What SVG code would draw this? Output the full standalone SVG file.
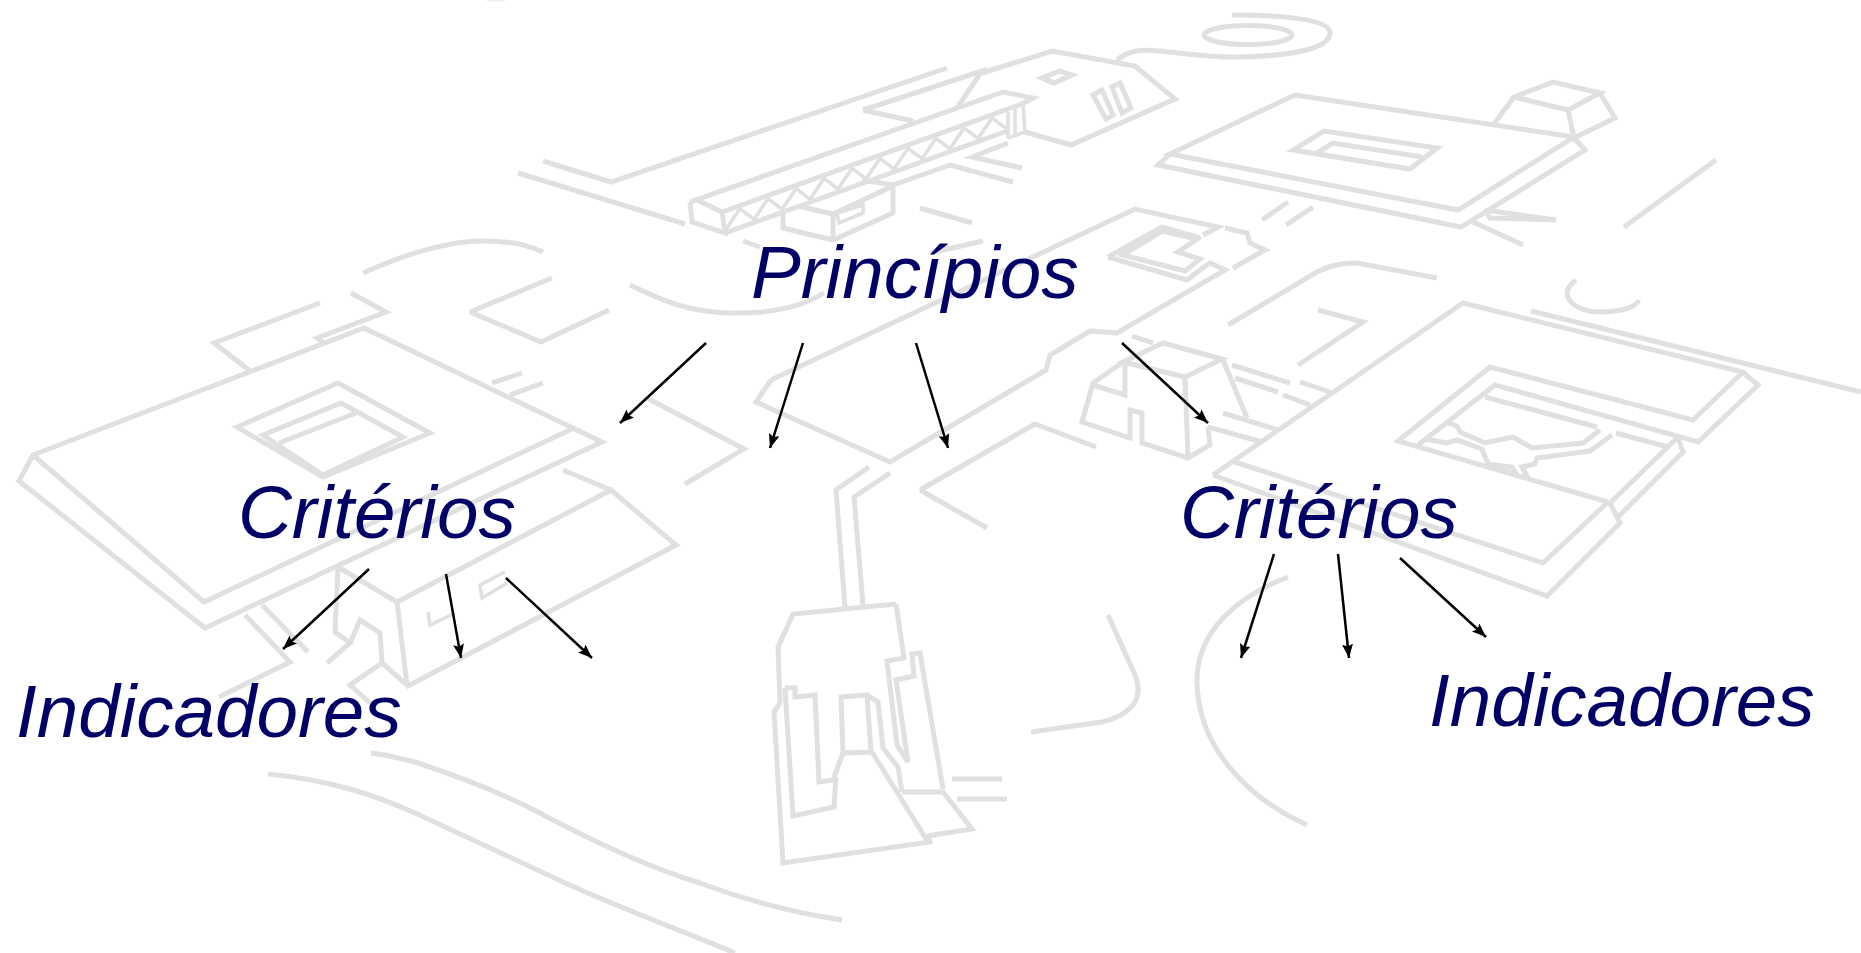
<svg xmlns="http://www.w3.org/2000/svg" width="1861" height="953" viewBox="0 0 1861 953">
<style>
.bg{fill:none;stroke:#e0e0e0;stroke-width:5;stroke-linejoin:miter;stroke-linecap:butt}
.thin{stroke-width:3.6}
.label{font-family:"Liberation Sans",Arial,sans-serif;font-style:italic;font-size:74.6px;fill:#000066}
.arrow{stroke:#000;stroke-width:2.5;fill:none;marker-end:url(#head)}
</style>
<defs>
<marker id="head" markerUnits="userSpaceOnUse" markerWidth="16" markerHeight="12" refX="14" refY="5.5" orient="auto">
<path d="M0,0 L14,5.5 L0,11 L2.5,5.5 Z" fill="#000"/>
</marker>
</defs>
<rect width="1861" height="953" fill="#fff"/>
<g id="background" class="bg">
<ellipse cx="496" cy="0" rx="11" ry="1.5" fill="#eeeef8" stroke="none"/>
<!-- top gallery complex -->
<path d="M543,161 L611,182 L947,68"/>
<path d="M518,173 L685,224"/>
<path d="M863,110 L982,71 L957,108"/>
<path d="M863,110 L913,121"/>
<path d="M982,73 L1052,51 L1135,66 L1175,99 L1071,145 L1025,132"/>
<path d="M1117,60 C1130,50 1140,49 1160,51 C1190,54 1215,58 1240,57 C1285,56 1330,50 1330,33 C1330,20 1290,15 1232,15"/>
<ellipse cx="1248" cy="35" rx="44" ry="9.5"/>
<path d="M1042,78 L1060,71 L1072,75 L1054,83 Z"/>
<path d="M1093,95 L1102,90 L1113,115 L1106,119 Z"/>
<path d="M1112,87 L1120,83 L1131,108 L1122,113 Z"/>
<path d="M690,202 L1003,92 L1033,98 L1022,104 L722,212 L695,199"/>
<path d="M690,202 L692,222 L725,233 L722,212"/>
<path d="M725,233 L1007,131"/>
<path class="thin" d="M726,229.6 L740,208.5 L754,219.5 L768,198.5 L782,209.4 L796,188.4 L810,199.3 L824,178.4 L838,189.1 L852,168.3 L866,179 L880,158.3 L894,168.9 L908,148.2 L922,158.7 L936,138.2 L950,148.6 L964,128.1 L978,138.5 L992,118 L1006,128.3"/>
<path class="thin" d="M1008,112 L1008,138 M1015,108 L1015,136 M1023,104 L1025,132 L1008,138"/>
<path d="M783,212 L783,228 L833,240 L893,213 L893,186 L833,214 L798,206"/>
<path d="M833,214 L833,240"/>
<path class="thin" d="M837,213 L863,205 L863,213 L839,223 Z"/>
<path d="M862,180 L893,185 L950,165 L1013,182"/>
<path d="M1008,143 L972,157 L1022,168"/>
<path d="M920,208 L972,223"/>
<path d="M743,241 L760,247"/>
<path d="M930,253 L983,241"/>
<!-- top right building -->
<path d="M1295,95 L1574,137 L1458,210 L1170,154 Z"/>
<path d="M1170,154 L1158,165 L1461,227 L1585,150 L1574,138"/>
<path d="M1324,131 L1437,148 L1410,169 L1293,150 Z"/>
<path d="M1315,154 L1333,143 L1422,157"/>
<path d="M1493,125 L1514,97 L1553,82 L1600,93 L1568,110 L1514,97"/>
<path d="M1600,93 L1615,118 L1574,138 L1568,110"/>
<path d="M1485,210 L1490,218 L1556,220 L1485,210"/>
<path d="M1473,222 L1523,245"/>
<path d="M1716,160 L1624,227"/>
<path d="M1262,220 L1288,202 M1286,225 L1313,207"/>
<!-- central plaza -->
<path d="M771,380 L1135,209 L1218,227 L1203,235"/>
<path d="M771,380 L756,402 L890,462 L1046,370 L1050,355 L1090,331 L1117,333 L1225,270 L1210,263 L1200,270"/>
<path d="M1108,257 L1162,227 L1200,238 M1108,257 L1187,280 L1200,270"/>
<path d="M1123,255 L1162,231 L1197,239 L1178,252 L1200,259 L1185,271 Z"/>
<path class="thin" d="M1118,255 L1162,229 L1197,236"/>
<path d="M1225,228 L1247,233 L1250,243 L1265,250 L1233,268"/>
<path d="M1228,325 L1307,278 C1322,268 1335,263 1357,263 L1437,278"/>
<path d="M1318,310 L1363,322 L1298,365"/>
<!-- small building centre right -->
<path d="M1123,362 L1163,343 L1222,359 L1185,377 Z"/>
<path d="M1185,377 L1188,458"/>
<path d="M1123,362 L1093,383 L1082,422 L1130,438 L1130,410 L1142,413 L1142,443 L1188,458 L1210,445 L1208,427"/>
<path d="M1125,363 L1125,395 L1093,385"/>
<path d="M1223,360 L1247,418"/>
<path d="M1232,365 L1290,383 M1235,378 L1278,392 M1283,395 L1310,405 M1300,382 L1330,392"/>
<path d="M1223,413 L1278,430 M1208,427 L1262,442"/>
<path d="M1132,336 L1153,343"/>
<path d="M920,490 L1035,424 L1096,447 M920,490 L987,528"/>
<!-- right building -->
<path d="M1213,475 L1463,303 L1743,372 L1758,385 L1698,442 L1495,385 L1418,445"/>
<path d="M1742,373 L1693,420 L1490,367 L1398,441 L1608,502"/>
<path d="M1485,397 L1597,427"/>
<path d="M1600,430 L1583,443 L1532,448 L1513,437 L1485,443 L1460,432 C1458,425 1455,425 1448,423"/>
<path d="M1612,435 L1590,451 L1537,458 L1535,464 L1522,467 L1528,478"/>
<path d="M1616,433 L1668,447"/>
<path d="M1425,439 L1447,443 L1457,440 L1482,449 L1488,464 L1512,467 L1517,475"/>
<path class="thin" d="M1490,465 L1510,472"/>
<path d="M1677,438 L1610,503 L1620,523 L1547,596 L1213,475"/>
<path d="M1678,438 L1683,452 L1618,517"/>
<path d="M1608,502 L1543,563 L1235,462"/>
<path d="M1531,311 L1861,392"/>
<path d="M1576,280 C1555,295 1575,312 1600,312 C1620,312 1635,308 1639,300"/>
<!-- left building -->
<path d="M33,455 L364,328 L602,442 L205,628 L19,481 Z"/>
<path d="M33,455 L204,602 L574,428"/>
<path d="M338,383 L430,433 L323,477 L237,427 Z"/>
<path d="M341,403 L403,437 L323,475 L263,435 Z"/>
<path d="M279,443 L356,413"/>
<path d="M320,303 L214,343 L249,370"/>
<path d="M351,293 L386,312 L317,338 L323,342"/>
<path d="M363,273 C410,252 450,240 486,241 C510,241 530,246 543,252"/>
<path d="M470,312 L552,278 M470,312 L541,342 L609,310"/>
<path d="M630,285 C665,302 690,312 730,313 C770,314 800,308 824,293"/>
<path d="M492,383 L522,373 M510,395 L543,383"/>
<path d="M647,398 L744,449 L685,484"/>
<path d="M397,602 L611,490 L676,545 L406,687"/>
<path d="M563,470 L611,490"/>
<path d="M338,567 L397,602 L407,685"/>
<path d="M338,567 L335,632 L350,643 L327,663"/>
<path d="M350,643 L360,620 L380,633 L382,663 L407,685"/>
<path d="M382,663 L350,685 L370,703"/>
<path d="M262,605 L308,652"/>
<path d="M245,615 L290,662 L219,697"/>
<path class="thin" d="M428,612 L430,625 L455,613"/>
<path class="thin" d="M505,572 L480,585 L482,598 L507,583"/>
<!-- bottom building -->
<path d="M869,467 L836,490 L845,607"/>
<path d="M890,473 L854,497 L863,605"/>
<path d="M896,604 L793,614 L778,647 L780,703 L774,712 L783,863 L930,842 L928,836"/>
<path d="M896,604 L904,658 L887,661 L897,745 L908,762 L896,680 L914,676 L912,654 L920,653 L943,789"/>
<path d="M785,688 L795,688 L795,697 L815,695 L819,782 L833,780 L843,753 L872,752 L928,842"/>
<path d="M785,688 L793,816 L834,807 L836,777"/>
<path d="M843,753 L841,697 L867,695 L871,752"/>
<path d="M867,695 L878,702 L883,748 L898,767 L902,792"/>
<path d="M902,792 L943,792 L972,829 L927,836"/>
<path d="M952,779 L1002,779 M957,799 L1007,799"/>
<!-- roads -->
<path d="M268,774 C330,780 375,795 415,813 C465,836 515,860 563,882 C620,908 680,930 735,953"/>
<path d="M371,753 C390,755 405,760 415,762 C455,775 495,790 534,810 C590,840 650,868 700,883 C745,900 790,912 842,920"/>
<path d="M1288,577 C1240,595 1197,630 1197,680 C1197,745 1245,797 1307,825"/>
<path d="M1108,615 L1135,675 C1145,700 1130,715 1102,722 L1031,732"/>
</g>
<g id="connectors">
<line class="arrow" x1="706" y1="343" x2="620" y2="423"/>
<line class="arrow" x1="803" y1="343" x2="770" y2="448"/>
<line class="arrow" x1="916" y1="343" x2="948" y2="448"/>
<line class="arrow" x1="1122" y1="343" x2="1208" y2="423"/>
<line class="arrow" x1="369" y1="569" x2="283" y2="649"/>
<line class="arrow" x1="446" y1="574" x2="461" y2="658"/>
<line class="arrow" x1="506" y1="578" x2="592" y2="658"/>
<line class="arrow" x1="1274" y1="554" x2="1241" y2="658"/>
<line class="arrow" x1="1338" y1="554" x2="1349" y2="658"/>
<line class="arrow" x1="1400" y1="558" x2="1486" y2="637"/>
</g>
<g id="principios"><text class="label" x="751" y="298">Princípios</text></g>
<g id="criterios-left"><text class="label" x="238" y="538">Critérios</text></g>
<g id="criterios-right"><text class="label" x="1180" y="538">Critérios</text></g>
<g id="indicadores-left"><text class="label" x="16" y="737">Indicadores</text></g>
<g id="indicadores-right"><text class="label" x="1429" y="726">Indicadores</text></g>
</svg>
